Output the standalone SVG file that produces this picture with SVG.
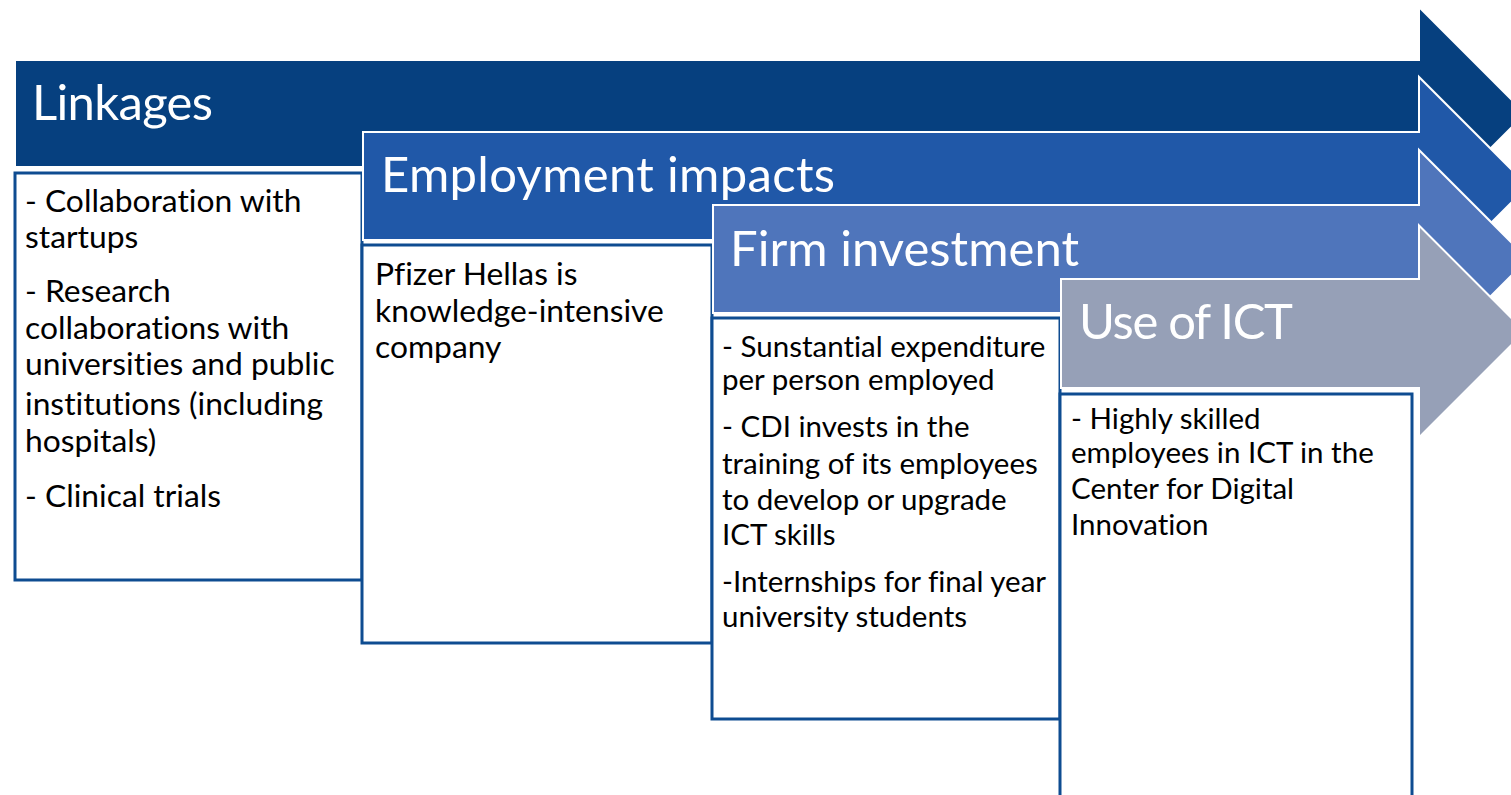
<svg xmlns="http://www.w3.org/2000/svg" width="1511" height="795" viewBox="0 0 1511 795">
<style>
text{font-variant-ligatures:none;font-feature-settings:"liga" 0,"dlig" 0,"clig" 0}
.arrow{stroke:#ffffff;stroke-width:2;stroke-linejoin:miter}
.box{fill:#ffffff;stroke:#0e4c91;stroke-width:3}
.title{font-family:Lato,"Liberation Sans",sans-serif;font-size:49px;fill:#ffffff}
.body{font-family:Lato,"Liberation Sans",sans-serif;font-size:31.8px;fill:#000000}
.body2{font-family:Lato,"Liberation Sans",sans-serif;font-size:29.5px;fill:#000000}
</style>
<rect width="1511" height="795" fill="#ffffff"/>
<g id="linkages">
<polygon class="arrow" fill="#06407f" points="15,60 1419,60 1419,7 1525.5,113.5 1419,220 1419,167 15,167"/>
<text class="title" x="32" y="120" textLength="181">Linkages</text>
</g>
<g id="linkages-box">
<rect class="box" x="15" y="173" width="347" height="407"/>
<text class="body" x="25" y="212">- Collaboration with</text>
<text class="body" x="25" y="248">startups</text>
<text class="body" x="25" y="302">- Research</text>
<text class="body" x="25" y="339">collaborations with</text>
<text class="body" x="25" y="375">universities and public</text>
<text class="body" x="25" y="415">institutions (including</text>
<text class="body" x="25" y="452">hospitals)</text>
<text class="body" x="25" y="507">- Clinical trials</text>
</g>
<g id="employment">
<polygon class="arrow" fill="#2058a8" points="363,132 1419,132 1419,77 1528,186 1419,295 1419,240 363,240"/>
<text class="title" x="381" y="192" textLength="454">Employment impacts</text>
</g>
<g id="employment-box">
<rect class="box" x="362" y="245" width="350" height="398"/>
<text class="body" x="375" y="285">Pfizer Hellas is</text>
<text class="body" x="375" y="322">knowledge-intensive</text>
<text class="body" x="375" y="358">company</text>
</g>
<g id="investment">
<polygon class="arrow" fill="#4f75bb" points="713,205 1419,205 1419,150 1528,259 1419,368 1419,313 713,313"/>
<text class="title" x="730" y="266" textLength="349">Firm investment</text>
</g>
<g id="investment-box">
<rect class="box" x="712" y="318" width="348" height="401"/>
<text class="body2" x="722" y="357">- Sunstantial expenditure</text>
<text class="body2" x="722" y="390">per person employed</text>
<text class="body2" x="722" y="437">- CDI invests in the</text>
<text class="body2" x="722" y="474">training of its employees</text>
<text class="body2" x="722" y="510">to develop or upgrade</text>
<text class="body2" x="722" y="545">ICT skills</text>
<text class="body2" x="722" y="592">-Internships for final year</text>
<text class="body2" x="722" y="627">university students</text>
</g>
<g id="ict">
<polygon class="arrow" fill="#96a0b7" points="1061,279 1419,279 1419,225.5 1525,331.5 1419,437.5 1419,388 1061,388"/>
<text class="title" x="1079" y="339" textLength="214">Use of ICT</text>
</g>
<g id="ict-box">
<rect class="box" x="1060" y="394" width="352" height="410"/>
<text class="body2" x="1071" y="429">- Highly skilled</text>
<text class="body2" x="1071" y="463">employees in ICT in the</text>
<text class="body2" x="1071" y="499">Center for Digital</text>
<text class="body2" x="1071" y="535">Innovation</text>
</g>
<g id="connectors"></g>
</svg>
